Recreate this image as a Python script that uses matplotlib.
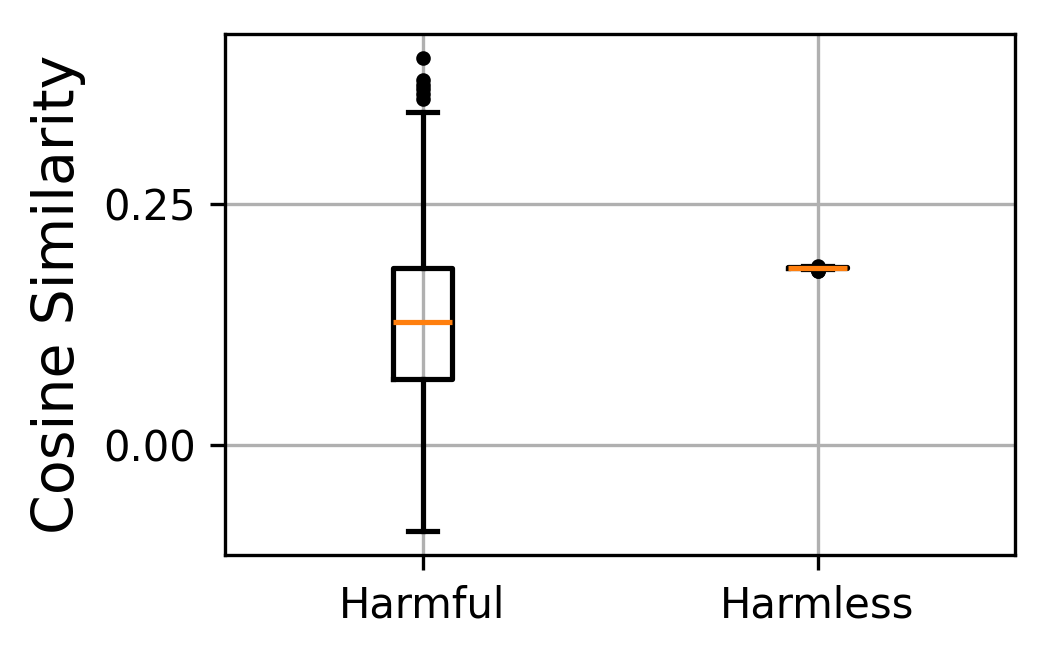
import matplotlib
matplotlib.use("Agg")
import matplotlib.pyplot as plt

labels = ["Harmful", "Harmless"]
q1 = [0.069, 0.1835]
med = [0.128, 0.1842]
q3 = [0.184, 0.1848]
whislo = [-0.089, 0.1825]
whishi = [0.346, 0.1860]
fliers = [
    [0.402, 0.379, 0.374, 0.369, 0.364, 0.359],
    [0.1805, 0.1810, 0.1815, 0.1865],
]

stats = []
for i in range(len(labels)):
    stats.append(dict(label=labels[i], q1=q1[i], med=med[i], q3=q3[i],
                      whislo=whislo[i], whishi=whishi[i], fliers=fliers[i]))

fig, ax = plt.subplots(figsize=(1049 / 300, 665 / 300), dpi=300)
fig.subplots_adjust(left=0.2145, right=0.9676, top=0.9489, bottom=0.1654)

lw = 1.25
ax.bxp(stats,
       boxprops=dict(linewidth=lw),
       whiskerprops=dict(linewidth=lw),
       capprops=dict(linewidth=lw),
       medianprops=dict(linewidth=lw, color="C1"),
       flierprops=dict(marker="o", markersize=2.5,
                       markerfacecolor="black", markeredgecolor="black"))
ax.grid(True)
ax.set_yticks([0.0, 0.25])
ax.set_ylabel("Cosine Similarity", fontsize=13.7)
ax.tick_params(labelsize=10)

fig.savefig("out.png", dpi=300)
